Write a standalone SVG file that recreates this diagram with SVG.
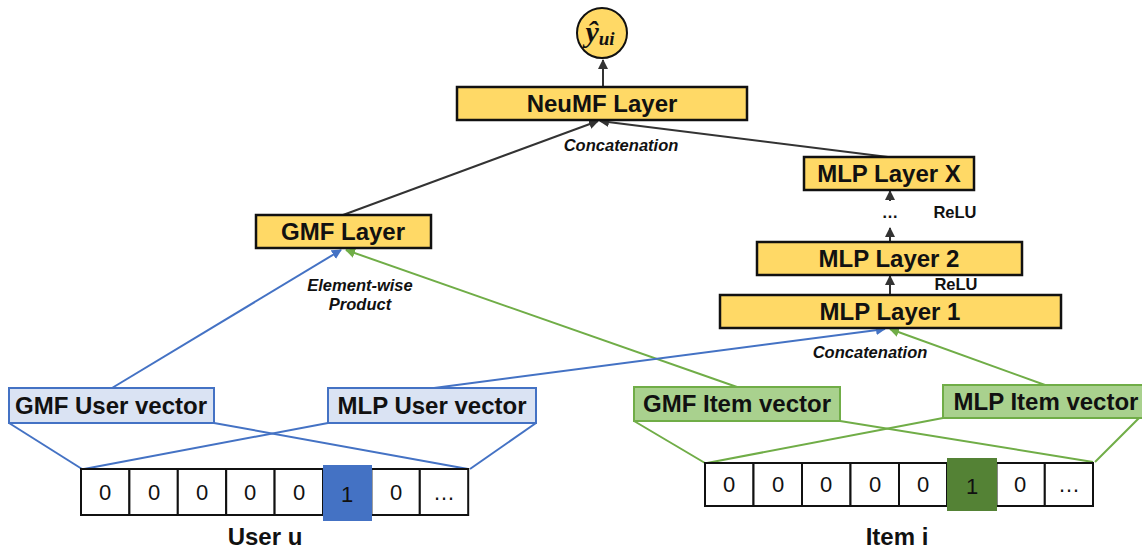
<svg xmlns="http://www.w3.org/2000/svg" width="1142" height="551" viewBox="0 0 1142 551">
<defs>
<marker id="ak" viewBox="0 0 10 10" refX="9" refY="5" markerWidth="5" markerHeight="5" orient="auto"><path d="M0,0 L10,5 L0,10 z" fill="#333"/></marker>
<marker id="ab" viewBox="0 0 10 10" refX="9" refY="5" markerWidth="5" markerHeight="5" orient="auto"><path d="M0,0 L10,5 L0,10 z" fill="#4472c4"/></marker>
<marker id="ag" viewBox="0 0 10 10" refX="9" refY="5" markerWidth="5" markerHeight="5" orient="auto"><path d="M0,0 L10,5 L0,10 z" fill="#70ad47"/></marker>
</defs>
<style>
.ly{fill:#ffd966;stroke:#111;stroke-width:2.5}
.t{font-family:"Liberation Sans",Arial,sans-serif;font-weight:bold;font-size:24px;fill:#111;text-anchor:middle}
.lab{font-family:"Liberation Sans",Arial,sans-serif;font-weight:bold;font-style:italic;font-size:16.5px;fill:#111;text-anchor:middle}
.relu{font-family:"Liberation Sans",Arial,sans-serif;font-weight:bold;font-size:16.5px;fill:#111;text-anchor:middle}
.ub{fill:#dae3f3;stroke:#4472c4;stroke-width:2}
.ib{fill:#a9d18e;stroke:#70ad47;stroke-width:2}
.cell{fill:#fff;stroke:#111;stroke-width:2}
.d{font-family:"Liberation Sans",Arial,sans-serif;font-size:22px;fill:#111;text-anchor:middle}
.bk{stroke:#333;stroke-width:2;fill:none}
.bl{stroke:#4472c4;stroke-width:2;fill:none}
.gr{stroke:#70ad47;stroke-width:2;fill:none}
</style>

<g id="connectors">
<line class="bk" x1="603" y1="87" x2="603" y2="60" marker-end="url(#ak)"/>
<line class="bk" x1="343" y1="215" x2="598" y2="121" marker-end="url(#ak)"/>
<line class="bk" x1="888" y1="157" x2="600" y2="121" marker-end="url(#ak)"/>
<line class="bk" x1="890" y1="201" x2="890" y2="191" marker-end="url(#ak)"/>
<line class="bk" x1="890" y1="242" x2="890" y2="228" marker-end="url(#ak)"/>
<line class="bk" x1="890" y1="295" x2="890" y2="276" marker-end="url(#ak)"/>
<line class="bl" x1="112" y1="388" x2="341" y2="250" marker-end="url(#ab)"/>
<line class="gr" x1="737" y1="387" x2="346" y2="250" marker-end="url(#ag)"/>
<line class="bl" x1="434" y1="388" x2="885" y2="329" marker-end="url(#ab)"/>
<line class="gr" x1="1045" y1="385" x2="890" y2="329" marker-end="url(#ag)"/>
<line class="bl" x1="9" y1="423" x2="82" y2="469"/>
<line class="bl" x1="214" y1="423" x2="468" y2="469"/>
<line class="bl" x1="328" y1="423" x2="84" y2="469"/>
<line class="bl" x1="536" y1="423" x2="470" y2="469"/>
<line class="gr" x1="634" y1="421" x2="705" y2="463"/>
<line class="gr" x1="840" y1="421" x2="1093" y2="462"/>
<line class="gr" x1="943" y1="418" x2="707" y2="463"/>
<line class="gr" x1="1142" y1="415" x2="1095" y2="462"/>
</g>

<g id="output">
<circle cx="602" cy="33" r="25" fill="#ffd966" stroke="#111" stroke-width="2"/>
<text x="600" y="42" font-family="Liberation Serif,serif" font-style="italic" font-weight="bold" font-size="30" text-anchor="middle" fill="#111">ŷ<tspan font-size="19" dy="3">ui</tspan></text>
</g>

<g id="neumf">
<rect class="ly" x="457" y="87" width="290" height="33"/>
<text class="t" x="602" y="112">NeuMF Layer</text>
</g>
<text class="lab" x="621" y="151">Concatenation</text>

<g id="gmf-layer">
<rect class="ly" x="256" y="215" width="175" height="33"/>
<text class="t" x="343" y="240">GMF Layer</text>
</g>
<text class="lab" x="360" y="291">Element-wise</text>
<text class="lab" x="360" y="310">Product</text>

<g id="mlp-x">
<rect class="ly" x="804" y="157" width="170" height="33"/>
<text class="t" x="889" y="182">MLP Layer X</text>
</g>
<text class="relu" x="890" y="218">…</text>
<text class="relu" x="955" y="218">ReLU</text>

<g id="mlp-2">
<rect class="ly" x="757" y="242" width="265" height="33"/>
<text class="t" x="889" y="267">MLP Layer 2</text>
</g>
<text class="relu" x="956" y="290">ReLU</text>

<g id="mlp-1">
<rect class="ly" x="720" y="295" width="341" height="33"/>
<text class="t" x="890" y="320">MLP Layer 1</text>
</g>
<text class="lab" x="870" y="358">Concatenation</text>

<g id="gmf-user">
<rect class="ub" x="9" y="388" width="205" height="35"/>
<text class="t" x="111" y="414">GMF User vector</text>
</g>
<g id="mlp-user">
<rect class="ub" x="328" y="388" width="208" height="35"/>
<text class="t" x="432" y="414">MLP User vector</text>
</g>
<g id="gmf-item">
<rect class="ib" x="634" y="387" width="206" height="34"/>
<text class="t" x="737" y="412">GMF Item vector</text>
</g>
<g id="mlp-item">
<rect class="ib" x="943" y="385" width="210" height="33"/>
<text class="t" x="1046" y="410">MLP Item vector</text>
</g>

<g id="user-onehot">
<rect class="cell" x="81" y="469" width="48.4" height="46"/>
<rect class="cell" x="129.4" y="469" width="48.4" height="46"/>
<rect class="cell" x="177.8" y="469" width="48.4" height="46"/>
<rect class="cell" x="226.2" y="469" width="48.4" height="46"/>
<rect class="cell" x="274.6" y="469" width="48.4" height="46"/>
<rect class="cell" x="371.4" y="469" width="48.4" height="46"/>
<rect class="cell" x="419.8" y="469" width="48.4" height="46"/>
<rect x="323" y="465" width="49" height="56" fill="#4472c4"/>
<text class="d" x="105" y="500">0</text>
<text class="d" x="154" y="500">0</text>
<text class="d" x="202" y="500">0</text>
<text class="d" x="250" y="500">0</text>
<text class="d" x="299" y="500">0</text>
<text class="d" x="347" y="502">1</text>
<text class="d" x="396" y="500">0</text>
<text class="d" x="444" y="500">…</text>
<text class="t" x="265" y="545">User u</text>
</g>

<g id="item-onehot">
<rect class="cell" x="705" y="463" width="48.5" height="43"/>
<rect class="cell" x="753.5" y="463" width="48.5" height="43"/>
<rect class="cell" x="802" y="463" width="48.5" height="43"/>
<rect class="cell" x="850.5" y="463" width="48.5" height="43"/>
<rect class="cell" x="899" y="463" width="48" height="43"/>
<rect class="cell" x="996.5" y="463" width="48.3" height="43"/>
<rect class="cell" x="1044.8" y="463" width="48.2" height="43"/>
<rect x="947" y="458" width="50" height="53" fill="#548235"/>
<text class="d" x="729" y="492">0</text>
<text class="d" x="778" y="492">0</text>
<text class="d" x="826" y="492">0</text>
<text class="d" x="875" y="492">0</text>
<text class="d" x="923" y="492">0</text>
<text class="d" x="972" y="494">1</text>
<text class="d" x="1020" y="492">0</text>
<text class="d" x="1069" y="492">…</text>
<text class="t" x="897" y="545">Item i</text>
</g>
</svg>
